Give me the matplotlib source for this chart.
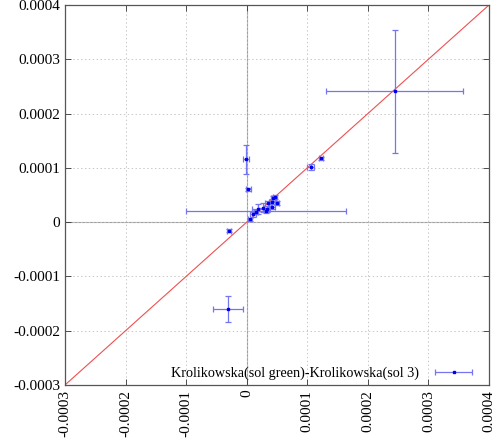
import matplotlib
matplotlib.use("Agg")
import matplotlib.pyplot as plt
from matplotlib.legend_handler import HandlerErrorbar
import numpy as np

# data (units of 1e-5)
xs = [24.42, -0.12, 0.26, 10.56, 12.26, 3.23, -2.92, -3.09, 0.54, 1.09, 1.53, 1.91,
      2.74, 3.30, 3.56, 4.13, 4.39, 4.67, 4.13, 5.00]
ys = [24.09, 11.57, 6.04, 10.20, 11.75, 2.04, -1.58, -16.06, 0.52, 1.44, 1.92, 2.41,
      2.65, 2.41, 3.46, 3.76, 4.38, 4.68, 2.84, 3.50]
xerrs = [11.35, 0.5, 0.4, 0.6, 0.3, 13.2, 0.3, 2.4, 0.3, 0.5, 0.4, 1.0,
         0.8, 0.5, 0.5, 0.5, 0.4, 0.4, 0.5, 0.4]
yerrs = [11.33, 2.7, 0.3, 0.6, 0.3, 0.3, 0.3, 2.4, 0.3, 0.5, 0.4, 1.0,
         0.8, 0.5, 0.5, 0.5, 0.4, 0.4, 0.5, 0.4]
ticks = [-0.0003, -0.0002, -0.0001, 0, 0.0001, 0.0002, 0.0003, 0.0004]
tick_labels = ["-0.0003", "-0.0002", "-0.0001", "0", "0.0001", "0.0002", "0.0003", "0.0004"]
label = "Krolikowska(sol green)-Krolikowska(sol 3)"

scale = 1e-5
x = np.array(xs) * scale
y = np.array(ys) * scale
xe = np.array(xerrs) * scale
ye = np.array(yerrs) * scale

plt.rcParams['font.family'] = ['Liberation Serif', 'DejaVu Serif']
fig = plt.figure(figsize=(5.0, 4.42), dpi=100)
ax = fig.add_axes([0.13, 0.129, 0.848, 0.8597])
ax.set_xlim(-0.0003, 0.0004)
ax.set_ylim(-0.0003, 0.0004)

ax.grid(True, color='#c8c8c8', linestyle=(0, (1.5, 2.5)), linewidth=0.7)
ax.axhline(0, color='#a0a0a0', linewidth=0.8, zorder=1)
ax.axvline(0, color='#a0a0a0', linewidth=0.8, zorder=1)
ax.plot([-0.0003, 0.0004], [-0.0003, 0.0004], color='#f05050', linewidth=0.8, zorder=2)

style = dict(fmt='s', color='#0000ee', markersize=2.0, ecolor='#7575f0',
             elinewidth=0.9, capsize=2.2, capthick=0.9)
ax.errorbar(x, y, xerr=xe, yerr=ye, zorder=3, **style)
proxy = ax.errorbar([np.nan], [np.nan], xerr=[1.0], label=label, **style)

ax.set_xticks(ticks)
ax.set_xticklabels(tick_labels, rotation=90, fontfamily='Liberation Serif')
ax.set_yticks(ticks)
ax.set_yticklabels(tick_labels, fontfamily='Liberation Serif')
ax.tick_params(direction='in', top=True, right=True, labelsize=11, length=4,
               width=0.6, color='#333333')
for s in ax.spines.values():
    s.set_color('#555555')
    s.set_linewidth(0.9)

leg = ax.legend(handles=[proxy], loc='lower right', bbox_to_anchor=(0.99, 0.0),
                markerfirst=False, frameon=False,
                prop={'family': 'Liberation Serif', 'size': 10.2},
                handlelength=3.7, borderaxespad=0.0, borderpad=0.35, handletextpad=0.6,
                handler_map={type(proxy): HandlerErrorbar(xerr_size=1.3, numpoints=1)})

fig.savefig('out.png', dpi=100)
